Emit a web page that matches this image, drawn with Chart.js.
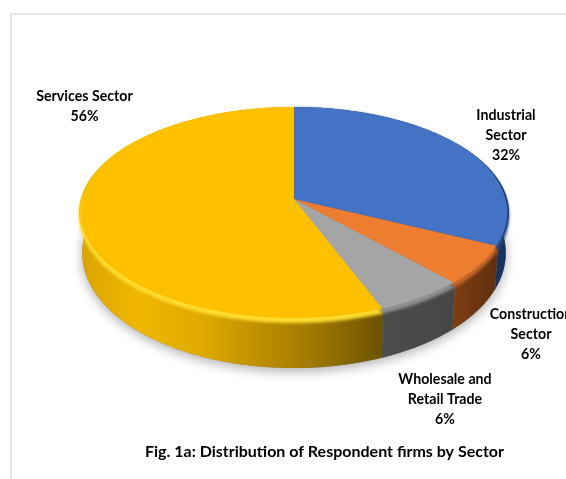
<!DOCTYPE html>
<html>
<head>
<meta charset="utf-8">
<title>Fig. 1a</title>
<style>
  html, body { margin: 0; padding: 0; background: #fff; }
  #frame { position: absolute; left: 10px; top: 13px; right: 0; bottom: 0; border-left: 2px solid #e6e6e6; border-top: 2px solid #e6e6e6; }
  #myChart { position: absolute; left: 0; top: 0; }
</style>
<script src="https://cdn.jsdelivr.net/npm/chart.js@4"></script>
</head>
<body>
<div id="frame"></div>
<canvas id="myChart" width="566" height="479"></canvas>
<script>
const sectors = ['Industrial Sector', 'Construction Sector', 'Wholesale and Retail Trade', 'Services Sector'];
const shares = [32, 6, 6, 56];
const labelLines = [['Industrial', 'Sector'], ['Construction', 'Sector'], ['Wholesale and', 'Retail Trade'], ['Services Sector']];
const figureTitle = 'Fig. 1a: Distribution of Respondent firms by Sector';

const faceColors = ['#4472c4', '#ed7d31', '#a5a5a5', '#ffc000'];
const bevelColors = ['#27457c', '#c8682a', '#8f8f8f', '#ffdb2e'];
const wallShades = [
    ['#2f5597', '#18305c'],
    ['#7d3f14', '#5e2f0e'],
    ['#4c4c4c', '#464646'],
    ['#d9a400', '#f0b600', '#e0aa00', '#bd8f00', '#9a7400', '#6c5200']
];
const labelSpots = [[506, 115], [531, 314], [445, 379], [84.5, 96]];

// tilted disc: x/y squash of the pie circle, k is the perspective strength
const tilt = { sx: 1.0715, sy: 0.5216, k: 0.128 };
const labelFont = 'bold 14.2px Lato, "Open Sans", sans-serif';
const titleFont = 'bold 16px Lato, "Open Sans", sans-serif';

function project(arc, angle) {
    const u = Math.cos(angle), v = Math.sin(angle);
    const w = 1 - tilt.k * v;
    return {
        x: arc.x + tilt.sx * arc.outerRadius * u / w,
        y: arc.y + tilt.sy * arc.outerRadius * v / w,
        v: v
    };
}

// same rim point on the lower plane of the disc
function lowered(p, arc) {
    return { x: arc.x + (p.x - arc.x) * 0.985, y: p.y + 39 + 11 * p.v };
}

function rimPoints(arc) {
    const pts = [];
    const steps = Math.max(2, Math.ceil((arc.endAngle - arc.startAngle) * 90));
    for (let i = 0; i <= steps; i++) {
        pts.push(project(arc, arc.startAngle + (arc.endAngle - arc.startAngle) * i / steps));
    }
    return pts;
}

function tracePoly(ctx, pts) {
    ctx.beginPath();
    pts.forEach((p, i) => i ? ctx.lineTo(p.x, p.y) : ctx.moveTo(p.x, p.y));
    ctx.closePath();
}

const tiltedPie = {
    id: 'tiltedPie',
    // replaces the flat arcs with the extruded disc
    beforeDatasetsDraw(chart) {
        const ctx = chart.ctx;
        const arcs = chart.getDatasetMeta(0).data;

        // soft shadow under the disc
        const outline = [];
        for (let i = 0; i <= 360; i++) {
            outline.push(lowered(project(arcs[0], i * Math.PI / 180), arcs[0]));
        }
        ctx.save();
        ctx.shadowColor = 'rgba(0,0,0,0.33)';
        ctx.shadowBlur = 12;
        ctx.shadowOffsetY = 3;
        ctx.fillStyle = '#888';
        tracePoly(ctx, outline);
        ctx.fill();
        ctx.restore();

        // side walls
        arcs.forEach((arc, i) => {
            const rim = rimPoints(arc);
            const xs = rim.map(p => p.x);
            const grad = ctx.createLinearGradient(Math.min(...xs), 0, Math.max(...xs), 0);
            wallShades[i].forEach((c, n) => grad.addColorStop(n / (wallShades[i].length - 1), c));
            ctx.fillStyle = grad;
            tracePoly(ctx, rim.concat(rim.map(p => lowered(p, arc)).reverse()));
            ctx.fill();
        });

        // rounded edge between wall and top face
        arcs.forEach((arc, i) => {
            ctx.save();
            ctx.filter = 'blur(1.5px)';
            ctx.fillStyle = bevelColors[i];
            const pts = [{ x: arc.x, y: arc.y + 4 }].concat(rimPoints(arc).map(p => ({ x: p.x, y: p.y + 3 + 2 * p.v })));
            tracePoly(ctx, pts);
            ctx.fill();
            ctx.restore();
        });

        // top faces, pulled in along the front half so the edge shows at the sides too
        arcs.forEach((arc, i) => {
            ctx.fillStyle = faceColors[i];
            const pts = rimPoints(arc).map(p => {
                const pull = Math.min(1, Math.max(0, (p.v + 0.5) / 0.4));
                return { x: arc.x + (p.x - arc.x) * (1 - 0.008 * pull), y: p.y };
            });
            tracePoly(ctx, [{ x: arc.x, y: arc.y }].concat(pts));
            ctx.fill();
        });
        return false;
    },
    afterDraw(chart) {
        const ctx = chart.ctx;
        ctx.save();
        ctx.fillStyle = '#000';
        ctx.textAlign = 'center';
        ctx.textBaseline = 'middle';
        ctx.font = labelFont;
        labelLines.forEach((lines, i) => {
            lines.concat(shares[i] + '%').forEach((line, n) => {
                ctx.fillText(line, labelSpots[i][0], labelSpots[i][1] + n * 20.3);
            });
        });
        ctx.font = titleFont;
        ctx.fillText(figureTitle, 324.5, 452);
        ctx.restore();
    }
};

new Chart(document.getElementById('myChart').getContext('2d'), {
    type: 'pie',
    data: {
        labels: sectors,
        datasets: [{ data: shares, backgroundColor: faceColors, borderWidth: 0 }]
    },
    options: {
        responsive: false,
        animation: false,
        layout: { padding: { left: 95, right: 73, top: 0, bottom: 81 } },
        plugins: {
            legend: { display: false },
            tooltip: { enabled: false }
        }
    },
    plugins: [tiltedPie]
});
</script>
</body>
</html>
